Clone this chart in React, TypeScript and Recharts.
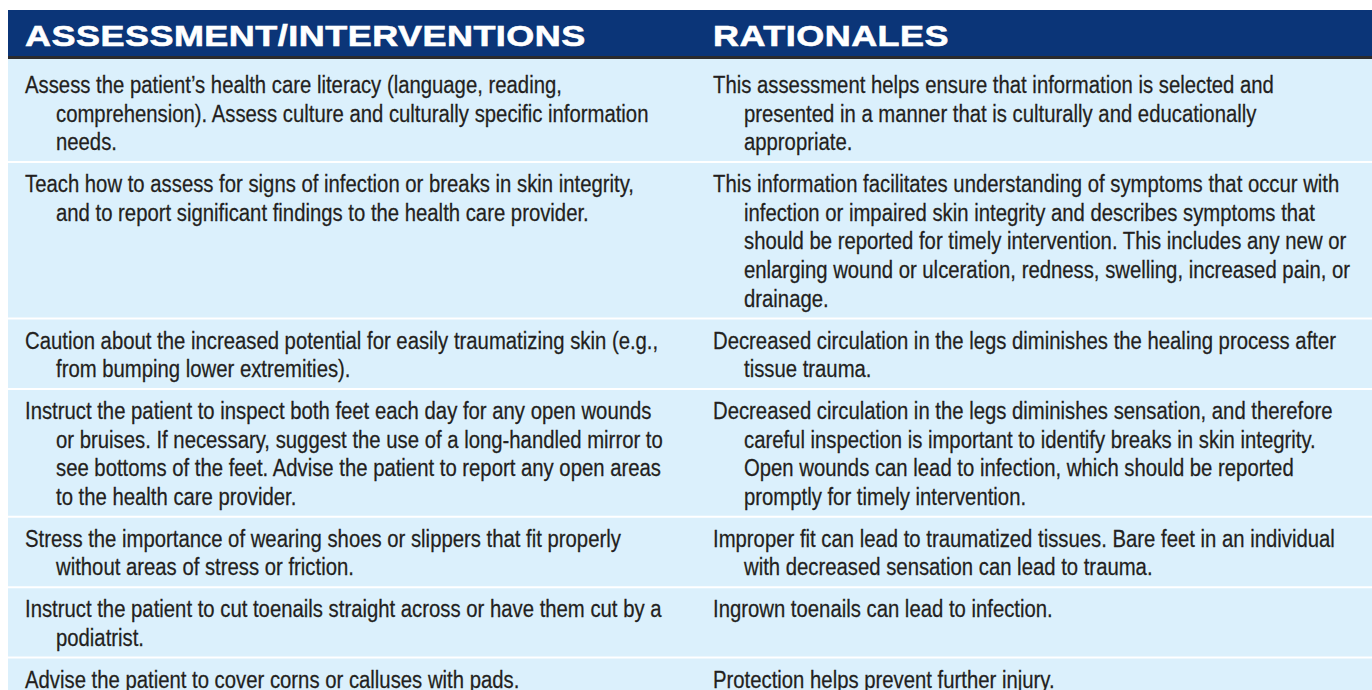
import React from 'react';
import { Surface, Layer, Rectangle, Text } from 'recharts';

const headers = ['ASSESSMENT/INTERVENTIONS', 'RATIONALES'];

const interventions: string[][] = [
  [
    'Assess the patient’s health care literacy (language, reading,',
    'comprehension). Assess culture and culturally specific information',
    'needs.',
  ],
  [
    'Teach how to assess for signs of infection or breaks in skin integrity,',
    'and to report significant findings to the health care provider.',
  ],
  [
    'Caution about the increased potential for easily traumatizing skin (e.g.,',
    'from bumping lower extremities).',
  ],
  [
    'Instruct the patient to inspect both feet each day for any open wounds',
    'or bruises. If necessary, suggest the use of a long-handled mirror to',
    'see bottoms of the feet. Advise the patient to report any open areas',
    'to the health care provider.',
  ],
  [
    'Stress the importance of wearing shoes or slippers that fit properly',
    'without areas of stress or friction.',
  ],
  [
    'Instruct the patient to cut toenails straight across or have them cut by a',
    'podiatrist.',
  ],
  ['Advise the patient to cover corns or calluses with pads.'],
];

const rationales: string[][] = [
  [
    'This assessment helps ensure that information is selected and',
    'presented in a manner that is culturally and educationally',
    'appropriate.',
  ],
  [
    'This information facilitates understanding of symptoms that occur with',
    'infection or impaired skin integrity and describes symptoms that',
    'should be reported for timely intervention. This includes any new or',
    'enlarging wound or ulceration, redness, swelling, increased pain, or',
    'drainage.',
  ],
  [
    'Decreased circulation in the legs diminishes the healing process after',
    'tissue trauma.',
  ],
  [
    'Decreased circulation in the legs diminishes sensation, and therefore',
    'careful inspection is important to identify breaks in skin integrity.',
    'Open wounds can lead to infection, which should be reported',
    'promptly for timely intervention.',
  ],
  [
    'Improper fit can lead to traumatized tissues. Bare feet in an individual',
    'with decreased sensation can lead to trauma.',
  ],
  ['Ingrown toenails can lead to infection.'],
  ['Protection helps prevent further injury.'],
];

const W = 1372;
const H = 690;
const LEFT = 8;
const HEADER_TOP = 10;
const HEADER_BOTTOM = 56;
const RULE = 3;
const LINE_H = 28.7;
const ROW_PAD = 11;
const GAP = 2;
const COL_X = [25, 713];
const INDENT = 31;
// Arial-metric font squeezed to look like Helvetica Condensed
const SQUEEZE = 0.857;
// and stretched for the heavy header face
const STRETCH = 1.2;

const sans = "'Liberation Sans', Arial, Helvetica, sans-serif";

export default function App() {
  const rows: { top: number; height: number; first: number; cells: string[][] }[] = [];
  let y = HEADER_BOTTOM + RULE;
  interventions.forEach((left, i) => {
    const right = rationales[i];
    const n = Math.max(left.length, right.length);
    const extra = i === 0 ? 5 : 0;
    const height = n * LINE_H + ROW_PAD + extra;
    rows.push({ top: y, height, first: y + 29 + extra, cells: [left, right] });
    y += height + GAP;
  });

  return (
    <div style={{ position: 'absolute', left: 0, top: 0, width: W, height: H, overflow: 'hidden', background: '#fff' }}>
      <Surface width={W} height={H}>
        <Rectangle x={LEFT} y={HEADER_TOP} width={W - LEFT} height={HEADER_BOTTOM - HEADER_TOP} fill="#0b3578" />
        <Rectangle x={LEFT} y={HEADER_BOTTOM} width={W - LEFT} height={RULE} fill="#2b2b2e" />
        {headers.map((h, c) => (
          <Layer key={h} transform={`translate(${COL_X[c]} 0) scale(${STRETCH} 1)`}>
            <Text
              x={0}
              y={45.7}
              fill="#ffffff"
              stroke="#ffffff"
              strokeWidth={0.6}
              fontFamily={sans}
              fontWeight="bold"
              fontSize={30}
              letterSpacing={0.4}
            >
              {h}
            </Text>
          </Layer>
        ))}
        {rows.map((r, i) => (
          <Layer key={i}>
            <Rectangle x={LEFT} y={r.top} width={W - LEFT} height={r.height} fill="#dbf0fc" />
            {r.cells.map((lines, c) => (
              <Layer key={c} transform={`translate(${COL_X[c]} 0) scale(${SQUEEZE} 1)`}>
                {lines.map((line, k) => (
                  <Text
                    key={k}
                    x={k > 0 ? INDENT / SQUEEZE : 0}
                    y={r.first + k * LINE_H}
                    fill="#231f20"
                    stroke="#231f20"
                    strokeWidth={0.25}
                    fontFamily={sans}
                    fontSize={23.7}
                  >
                    {line}
                  </Text>
                ))}
              </Layer>
            ))}
          </Layer>
        ))}
      </Surface>
    </div>
  );
}
